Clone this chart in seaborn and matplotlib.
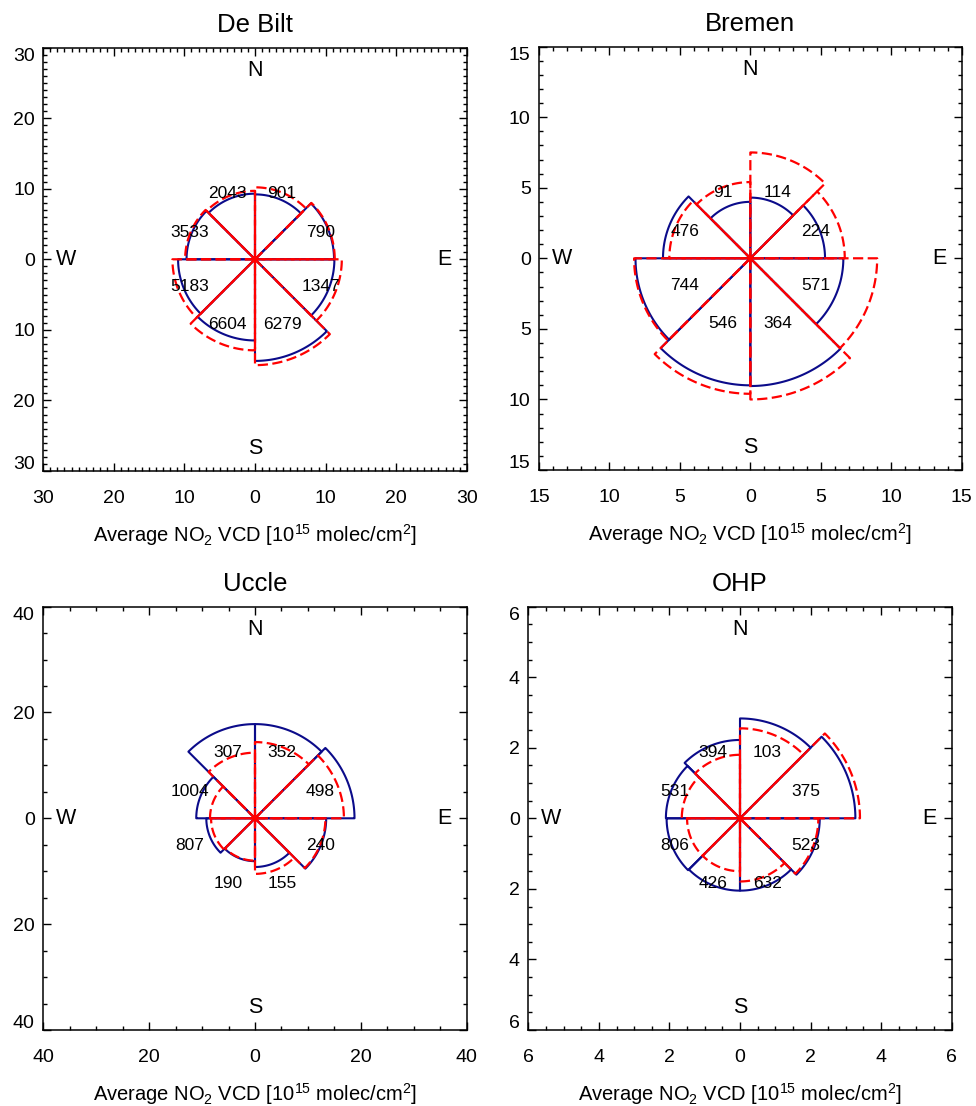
import numpy as np
import matplotlib
matplotlib.use("Agg")
import matplotlib.pyplot as plt
import seaborn as sns
from matplotlib.ticker import MultipleLocator, FuncFormatter

# Stil
sns.set_style("ticks")
plt.rcParams["font.family"] = ["Liberation Sans", "DejaVu Sans"]
plt.rcParams["mathtext.fontset"] = "custom"
plt.rcParams["mathtext.rm"] = "Liberation Sans"
plt.rcParams["mathtext.it"] = "Liberation Sans:italic"
plt.rcParams["mathtext.bf"] = "Liberation Sans:bold"
plt.rcParams["mathtext.default"] = "regular"
for key in ["text.color", "axes.labelcolor", "xtick.color", "ytick.color",
            "axes.edgecolor", "axes.titlecolor"]:
    plt.rcParams[key] = "black"

# Daten: 8 Sektoren, im Uhrzeigersinn ab Nord (N-NE, NE-E, E-SE, SE-S, S-SW, SW-W, W-NW, NW-N)
sites = ["De Bilt", "Bremen", "Uccle", "OHP"]
limits = [30, 15, 40, 6]
major_steps = [10, 5, 20, 2]
minor_steps = [1, 1, 5, 0.5]
sector_start = [0, 45, 90, 135, 180, 225, 270, 315]

debilt_blue = [9.2, 11.2, 11.25, 14.4, 11.5, 10.9, 9.7, 9.3]
debilt_red = [10.2, 11.3, 12.3, 15.0, 12.9, 11.7, 9.9, 9.7]
debilt_counts = [901, 790, 1347, 6279, 6604, 5183, 3533, 2043]

bremen_blue = [4.3, 5.3, 6.6, 9.05, 9.0, 8.15, 6.2, 4.0]
bremen_red = [7.5, 6.7, 9.0, 10.0, 9.6, 8.25, 5.75, 5.4]
bremen_counts = [114, 224, 571, 364, 546, 744, 476, 91]

uccle_blue = [17.8, 18.8, 13.45, 9.2, 8.1, 9.2, 11.1, 17.8]
uccle_red = [14.4, 16.8, 13.3, 10.5, 8.0, 8.3, 8.5, 12.4]
uccle_counts = [352, 498, 240, 155, 190, 807, 1004, 307]

ohp_blue = [2.83, 3.27, 2.26, 2.05, 2.05, 2.08, 2.1, 2.22]
ohp_red = [2.55, 3.4, 2.22, 1.79, 1.5, 1.5, 1.65, 1.8]
ohp_counts = [103, 375, 523, 632, 426, 806, 531, 394]

blue_all = [debilt_blue, bremen_blue, uccle_blue, ohp_blue]
red_all = [debilt_red, bremen_red, uccle_red, ohp_red]
counts_all = [debilt_counts, bremen_counts, uccle_counts, ohp_counts]

# Achsenpositionen in Pixeln (links, oben, rechts, unten)
W, H = 976, 1106
boxes = [(43.3, 47.6, 466.7, 471.0), (539.0, 46.6, 961.7, 470.0),
         (43.3, 606.6, 466.7, 1030.0), (528.3, 606.6, 951.7, 1030.0)]

BLUE = "#0b0b8a"
RED = "#ff0000"


def sector_outline(r, a0, width=45, n=60):
    ang = np.deg2rad(np.linspace(a0, a0 + width, n))
    xs = np.concatenate([[0.0], r * np.sin(ang), [0.0]])
    ys = np.concatenate([[0.0], r * np.cos(ang), [0.0]])
    return xs, ys


fig = plt.figure(figsize=(W / 100, H / 100), dpi=100)

for k, site in enumerate(sites):
    l, t, r, b = boxes[k]
    ax = fig.add_axes([l / W, 1 - b / H, (r - l) / W, (b - t) / H])
    lim = limits[k]

    for a0, rb in zip(sector_start, blue_all[k]):
        xs, ys = sector_outline(rb, a0)
        sns.lineplot(x=xs, y=ys, sort=False, estimator=None, color=BLUE,
                     linewidth=1.5, ax=ax)
    for a0, rr in zip(sector_start, red_all[k]):
        xs, ys = sector_outline(rr, a0)
        sns.lineplot(x=xs, y=ys, sort=False, estimator=None, color=RED,
                     linewidth=1.6, linestyle=(0, (4.6, 2.0)), ax=ax)

    # Anzahl je Sektor
    for a0, c in zip(sector_start, counts_all[k]):
        am = np.deg2rad(a0 + 22.5)
        rl = 0.335 * lim
        ax.text(rl * np.sin(am), rl * np.cos(am), str(c), fontsize=12.5,
                ha="center", va="center")

    # Himmelsrichtungen
    d = 0.893 * lim
    ax.text(0, d, "N", fontsize=15.5, ha="center", va="center")
    ax.text(0, -d, "S", fontsize=15.5, ha="center", va="center")
    ax.text(d, 0, "E", fontsize=15.5, ha="center", va="center")
    ax.text(-d, 0, "W", fontsize=15.5, ha="center", va="center")

    ax.set_xlim(-lim, lim)
    ax.set_ylim(-lim, lim)
    ax.xaxis.set_major_locator(MultipleLocator(major_steps[k]))
    ax.yaxis.set_major_locator(MultipleLocator(major_steps[k]))
    ax.xaxis.set_minor_locator(MultipleLocator(minor_steps[k]))
    ax.yaxis.set_minor_locator(MultipleLocator(minor_steps[k]))
    ax.xaxis.set_major_formatter(FuncFormatter(lambda v, p: f"{abs(v):g}"))
    ax.yaxis.set_major_formatter(
        FuncFormatter(lambda v, p, lim=lim: "" if abs(abs(v) - lim) < 1e-9 else f"{abs(v):g}"))
    ax.tick_params(which="both", direction="in", top=True, right=True,
                   colors="black", width=1.0)
    ax.tick_params(which="major", length=5.5)
    ax.tick_params(which="minor", length=2.7)
    ax.tick_params(axis="x", which="major", labelsize=14, pad=14)
    ax.tick_params(axis="y", which="major", labelsize=14, pad=6)
    for sp in ax.spines.values():
        sp.set_color("black")
        sp.set_linewidth(1.1)

    # Endbeschriftungen der y-Achse leicht nach innen versetzt
    px_per_unit = (b - t) / (2 * lim)
    ax.text(-lim - 8.5 / px_per_unit, lim - 9 / px_per_unit, f"{lim:g}",
            fontsize=14, ha="right", va="center")
    ax.text(-lim - 8.5 / px_per_unit, -lim + 7 / px_per_unit, f"{lim:g}",
            fontsize=14, ha="right", va="center")

    ax.set_title(site, fontsize=18.5, pad=11, color="black")
    ax.set_xlabel("")
    ax.set_ylabel("")
    ax.text(0.5, -64 / (b - t), r"Average NO$_2$ VCD [10$^{15}$ molec/cm$^2$]",
            transform=ax.transAxes, fontsize=14.5, ha="center", va="center")

fig.savefig("out.png", dpi=100)
